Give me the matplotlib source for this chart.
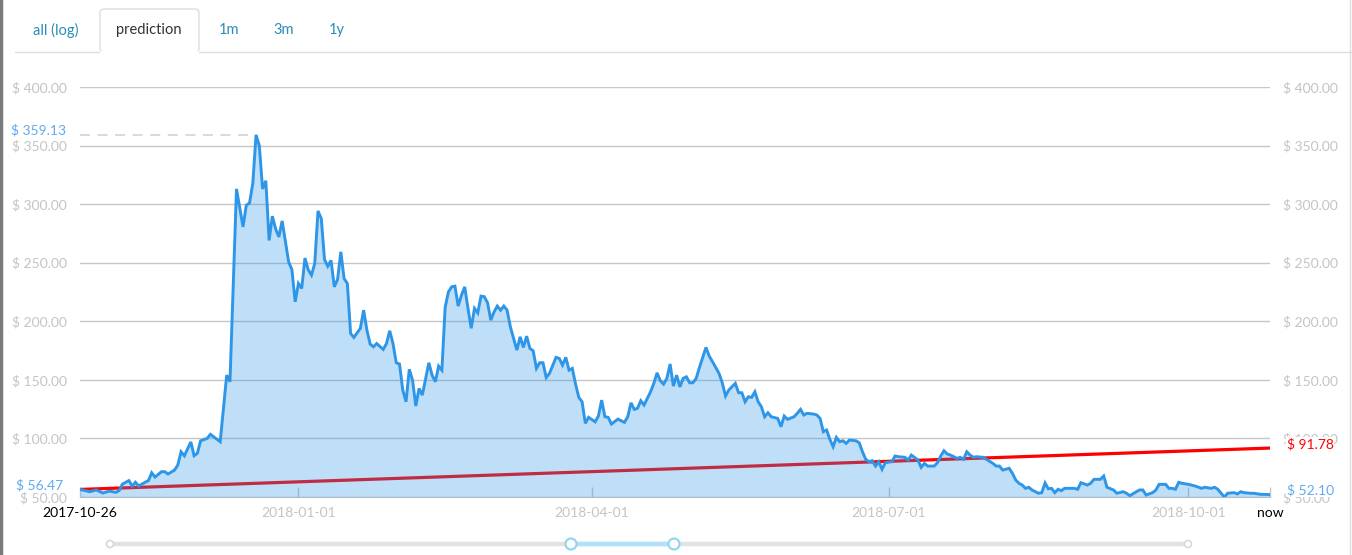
import matplotlib
matplotlib.use('Agg')
import matplotlib.pyplot as plt
import numpy as np
import pandas as pd
from matplotlib.patches import FancyBboxPatch, Circle

plt.rcParams['font.family'] = ['Lato', 'DejaVu Sans']

# ---------------- data ----------------
start_date = '2017-10-26'
day_offsets = [
    0, 3, 5, 7, 9, 11, 12, 13, 15, 16,
    17, 18, 20, 21, 22, 23, 25, 26, 27, 29,
    30, 31, 32, 34, 35, 36, 37, 39, 40, 43,
    45, 46, 48, 50, 51, 52, 53, 54, 55, 56,
    57, 58, 59, 60, 61, 62, 64, 65, 66, 67,
    68, 69, 70, 71, 72, 73, 74, 75, 76, 77,
    78, 79, 80, 81, 82, 83, 84, 86, 87, 88,
    89, 90, 91, 93, 94, 95, 96, 97, 98, 99,
    100, 101, 102, 103, 104, 105, 107, 108, 109, 110,
    111, 112, 113, 114, 115, 116, 117, 118, 119, 120,
    121, 122, 123, 124, 125, 126, 127, 128, 129, 130,
    131, 132, 134, 135, 136, 137, 138, 139, 140, 141,
    142, 143, 144, 146, 147, 148, 149, 150, 151, 152,
    153, 154, 155, 156, 158, 159, 160, 161, 162, 163,
    165, 166, 167, 168, 169, 170, 171, 172, 173, 175,
    176, 177, 178, 179, 180, 181, 182, 183, 184, 185,
    186, 187, 188, 189, 190, 192, 193, 195, 196, 197,
    198, 199, 201, 202, 203, 204, 205, 206, 207, 208,
    209, 210, 211, 212, 214, 215, 216, 217, 219, 220,
    221, 222, 223, 225, 226, 227, 228, 229, 230, 231,
    232, 233, 234, 235, 236, 238, 239, 240, 241, 242,
    243, 244, 245, 246, 247, 249, 250, 251, 253, 254,
    255, 257, 258, 259, 260, 262, 263, 264, 265, 266,
    267, 269, 270, 271, 272, 273, 274, 275, 277, 278,
    280, 281, 282, 283, 285, 286, 287, 288, 289, 290,
    291, 292, 294, 295, 296, 297, 298, 299, 300, 301,
    302, 305, 306, 307, 309, 310, 311, 313, 314, 315,
    317, 318, 320, 321, 322, 324, 325, 326, 327, 329,
    330, 331, 333, 334, 335, 336, 337, 338, 340, 342,
    344, 345, 347, 348, 349, 350, 351, 352, 354, 355,
    356, 357, 359, 360, 362, 365,
]
prices = [
    56.47, 54.5, 56, 53.4, 55, 54, 55.4, 61, 64, 59.4,
    62.6, 59.4, 62.6, 64, 70.7, 67, 71.6, 71.6, 69.6, 73,
    77.3, 88.6, 85.2, 97, 85.2, 87.3, 98, 100, 103.5, 97.2,
    154, 148.4, 313, 280.6, 299, 301, 317.6, 359.13, 350, 313,
    320, 269, 289.7, 279, 272, 285.7, 250.7, 244, 216.6, 232.3,
    228, 254, 244, 239.4, 249.3, 294.2, 287.7, 252.7, 247, 252,
    229.4, 235.7, 259.3, 236.5, 232.3, 189.6, 186.2, 194, 209.5, 192.5,
    180.5, 178.2, 181, 176, 181, 191.9, 181, 164.6, 163.5, 141.3,
    131.3, 159, 149.8, 127.6, 142.7, 137, 164.6, 154, 148.4, 161.7,
    158.3, 211.8, 225.1, 229.4, 230, 213, 222.3, 229.4, 211, 194,
    211, 207.2, 221.5, 221, 215.8, 201, 208, 213, 209.5, 213,
    209.5, 195.3, 175.4, 186.7, 177.7, 187.3, 176.8, 174.8, 159.8, 164.6,
    164.6, 152, 155.5, 169.2, 168.3, 162.6, 169.2, 158.3, 159.8, 146.4,
    135, 131.3, 112.9, 118, 114.2, 119.1, 132.7, 118.5, 118, 112.3,
    116.5, 115.1, 113.7, 118.5, 130.4, 124.8, 125.7, 132.2, 128.5, 139.8,
    147, 156, 149.2, 146.4, 151.3, 163.5, 144.7, 154, 144, 151.3,
    152.6, 147.5, 147.5, 151.3, 160.6, 177.7, 170.3, 160.6, 155.5, 147.5,
    136.2, 141.3, 147, 139, 139, 131.3, 135.6, 135, 139.8, 131.3,
    127, 118.5, 121.9, 118.5, 117.1, 110, 119.1, 116.3, 118.5, 121.4,
    124.8, 120, 121.4, 120.8, 120, 117.1, 105.7, 107.2, 99.2, 92.9,
    100.9, 97.2, 98, 95.8, 98.6, 98, 96.3, 88.6, 82.2, 80.1,
    81, 76.4, 80.1, 73.6, 79.3, 80.1, 85, 84.4, 83.9, 81.6,
    85.8, 81.6, 75.3, 78.7, 76.4, 76.4, 79.3, 85, 89.5, 86.7,
    85.8, 83, 83.9, 82.2, 88.6, 85.8, 83.9, 84.4, 83.9, 82.2,
    78.7, 76.4, 76.4, 73, 74.5, 70.2, 64.5, 61.7, 60.2, 57.4,
    58.3, 56, 53.2, 53.7, 62, 57, 57.4, 53.7, 56.6, 55.4,
    57.4, 57.4, 56.6, 62.2, 60.2, 61.7, 65.1, 65.1, 67.9, 58.3,
    56, 53.2, 54.5, 53.2, 51.1, 54.5, 56, 56, 51.7, 53.7,
    56, 60.8, 60.8, 57.4, 57.4, 56.6, 62.5, 61.7, 60.8, 59.4,
    57.4, 58.3, 57.4, 58.3, 56.6, 53.2, 50, 53.2, 53.7, 52.6,
    54.5, 53.7, 53.2, 53.2, 52.3, 52.10,
]
pred_start = 56.47
pred_end = 91.78
y_ticks = [50, 100, 150, 200, 250, 300, 350, 400]
date_ticks = ['2018-01-01', '2018-04-01', '2018-07-01', '2018-10-01']
end_label = 'now'
tabs = ['all (log)', 'prediction', '1m', '3m', '1y']
active_tab = 'prediction'

assert len(day_offsets) == len(prices)

# ---------------- styling ----------------
W, H = 1352, 555
LINE = '#2d96e8'
GRID = '#c6c6c6'
LABEL = '#c4c4c4'
BLUE_TXT = '#5fabee'
TAB_TXT = '#2a8cb8'

fig = plt.figure(figsize=(W / 100, H / 100), dpi=100)

# decoration overlay in pixel coordinates
ov = fig.add_axes([0, 0, 1, 1], zorder=0)
ov.set_xlim(0, W)
ov.set_ylim(H, 0)
ov.axis('off')

ax = fig.add_axes([80 / W, 1 - 497 / H, (1270 - 80) / W, (497 - 87) / H], zorder=1)

dates = pd.to_datetime(start_date) + pd.to_timedelta(day_offsets, unit='D')
prices_arr = np.array(prices)

ax.set_xlim(dates[0], dates[-1])
ax.set_ylim(y_ticks[0], y_ticks[-1])

# prediction line (under the fill)
ax.plot([dates[0], dates[-1]], [pred_start, pred_end], color='#ff0000', lw=2.3,
        zorder=2, solid_capstyle='butt')
# area
ax.fill_between(dates, prices_arr, y_ticks[0], color=LINE, alpha=0.3, lw=0, zorder=3)
ax.plot(dates, prices_arr, color=LINE, lw=2.1, zorder=4, solid_joinstyle='miter')

# max dashed line
imax = int(np.argmax(prices_arr))
ax.plot([dates[0], dates[imax]], [prices_arr[imax]] * 2, color='#cfcfcf', lw=1.1,
        dashes=(6.5, 5), zorder=2.5)

# grid
ax.set_yticks(y_ticks)
ax.set_yticklabels([f'$ {v:.2f}' for v in y_ticks])
ax.yaxis.grid(True, color=GRID, lw=1)
ax.set_axisbelow(True)
ax.tick_params(axis='y', left=False, right=False, length=0, labelleft=True,
               labelright=True, labelcolor=LABEL, labelsize=10, pad=9.5)
for s in ['top', 'left', 'right']:
    ax.spines[s].set_visible(False)
ax.spines['bottom'].set_color(GRID)

# x ticks
xt = [dates[0]] + list(pd.to_datetime(date_ticks)) + [dates[-1]]
xl = [start_date] + date_ticks + [end_label]
ax.set_xticks(xt)
ax.set_xticklabels(xl)
ax.tick_params(axis='x', direction='in', length=7, color=GRID, width=1,
               labelsize=10, pad=7, labelcolor=LABEL)
lbls = ax.get_xticklabels()
lbls[0].set_color('black')
lbls[-1].set_color('black')

# value annotations
def ann(xfrac, val, txt, color, ha, dx):
    ax.annotate(txt, xy=(xfrac, val), xycoords=('axes fraction', 'data'),
                xytext=(dx, 3), textcoords='offset points', ha=ha, va='center',
                color=color, fontsize=10, zorder=10, annotation_clip=False,
                bbox=dict(boxstyle='square,pad=0.05', fc='white', ec='none'))

ann(0, prices_arr[imax], f'$ {prices_arr[imax]:.2f}', BLUE_TXT, 'right', -10)
ann(0, prices_arr[0], f'$ {prices_arr[0]:.2f}', BLUE_TXT, 'right', -12)
ann(1, prices_arr[-1], f'$ {prices_arr[-1]:.2f}', BLUE_TXT, 'left', 12)
ann(1, pred_end, f'$ {pred_end:.2f}', '#ff0000', 'left', 12)

# ---------------- tabs ----------------
ov.plot([15, 100], [51.5, 51.5], color='#dddddd', lw=1)
ov.plot([199, W], [51.5, 51.5], color='#dddddd', lw=1)
tab_box = FancyBboxPatch((100, 9), 99, 43, boxstyle='round,pad=0,rounding_size=4',
                         fc='white', ec='#dddddd', lw=1)
ov.add_patch(tab_box)
ov.plot([101, 198], [52, 52], color='white', lw=1.5)
tab_x = [56, 149, 229, 284, 337]
for t, x in zip(tabs, tab_x):
    ov.text(x, 30, t, ha='center', va='center', fontsize=10.5,
            color='#333333' if t == active_tab else TAB_TXT)

# frame edges
ov.plot([1, 1], [0, H], color='#7a7a7a', lw=2.5)
ov.plot([1350, 1350], [0, H], color='#dddddd', lw=1)

# ---------------- range slider ----------------
ov.plot([110, 1188], [544, 544], color='#e2e2e2', lw=3.2, solid_capstyle='butt')
ov.plot([571, 674], [544, 544], color='#aee2f8', lw=3.2, solid_capstyle='butt')
for cx in (110, 1188):
    ov.add_patch(Circle((cx, 544), 3.5, fc='white', ec='#d8d8d8', lw=1.2, zorder=5))
for cx in (571, 674):
    ov.add_patch(Circle((cx, 544), 5.5, fc='white', ec='#8fd4f4', lw=1.5, zorder=5))

fig.savefig('out.png', dpi=100, facecolor='white')
